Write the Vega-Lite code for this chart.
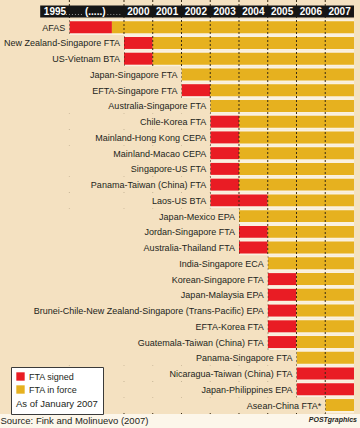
{
  "$schema": "https://vega.github.io/schema/vega-lite/v6.json",
  "width": 360,
  "height": 414,
  "autosize": {"type": "none"},
  "padding": {"left": 0, "top": 0, "right": 0, "bottom": 14},
  "background": "#fcf6ea",
  "config": {
    "view": {"fill": "#f4e1c1", "stroke": null},
    "font": "Liberation Sans",
    "axisX": {"domain": false, "ticks": false, "labels": false, "grid": false, "titleAnchor": "start", "titleAlign": "left", "titleFontSize": 9.5, "titleFontWeight": "normal", "titleColor": "#231f20", "titlePadding": 1.5}
  },
  "title": {"text": "POSTgraphics", "orient": "bottom", "anchor": "end", "fontSize": 7, "fontWeight": "bold", "fontStyle": "italic", "color": "#231f20", "offset": -9, "dx": -3},
  "datasets": {
    "rows": [
      {"name": "AFAS", "start": 1998.1, "end": 2008},
      {"name": "New Zealand-Singapore FTA", "start": 2000, "end": 2008},
      {"name": "US-Vietnam BTA", "start": 2000, "end": 2008},
      {"name": "Japan-Singapore FTA", "start": 2002, "end": 2008},
      {"name": "EFTA-Singapore FTA", "start": 2002, "end": 2008},
      {"name": "Australia-Singapore FTA", "start": 2003, "end": 2008},
      {"name": "Chile-Korea FTA", "start": 2003, "end": 2008},
      {"name": "Mainland-Hong Kong CEPA", "start": 2003, "end": 2008},
      {"name": "Mainland-Macao CEPA", "start": 2003, "end": 2008},
      {"name": "Singapore-US FTA", "start": 2003, "end": 2008},
      {"name": "Panama-Taiwan (China) FTA", "start": 2003, "end": 2008},
      {"name": "Laos-US BTA", "start": 2003, "end": 2008},
      {"name": "Japan-Mexico EPA", "start": 2004, "end": 2008},
      {"name": "Jordan-Singapore FTA", "start": 2004, "end": 2008},
      {"name": "Australia-Thailand FTA", "start": 2004, "end": 2008},
      {"name": "India-Singapore ECA", "start": 2005, "end": 2008},
      {"name": "Korean-Singapore FTA", "start": 2005, "end": 2008},
      {"name": "Japan-Malaysia EPA", "start": 2005, "end": 2008},
      {"name": "Brunei-Chile-New Zealand-Singapore (Trans-Pacific) EPA", "start": 2005, "end": 2008},
      {"name": "EFTA-Korea FTA", "start": 2005, "end": 2008},
      {"name": "Guatemala-Taiwan (China) FTA", "start": 2005, "end": 2008},
      {"name": "Panama-Singapore FTA", "start": 2006, "end": 2008},
      {"name": "Nicaragua-Taiwan (China) FTA", "start": 2006, "end": 2008},
      {"name": "Japan-Philippines EPA", "start": 2006, "end": 2008},
      {"name": "Asean-China FTA*", "start": 2007, "end": 2008}
    ],
    "segs": [
      {"name": "AFAS", "status": "FTA signed", "from": 1998.1, "to": 1999.58},
      {"name": "AFAS", "status": "FTA in force", "from": 1999.58, "to": 2008},
      {"name": "New Zealand-Singapore FTA", "status": "FTA signed", "from": 2000, "to": 2001},
      {"name": "New Zealand-Singapore FTA", "status": "FTA in force", "from": 2001, "to": 2008},
      {"name": "US-Vietnam BTA", "status": "FTA signed", "from": 2000, "to": 2001},
      {"name": "US-Vietnam BTA", "status": "FTA in force", "from": 2001, "to": 2008},
      {"name": "Japan-Singapore FTA", "status": "FTA in force", "from": 2002, "to": 2008},
      {"name": "EFTA-Singapore FTA", "status": "FTA signed", "from": 2002, "to": 2003},
      {"name": "EFTA-Singapore FTA", "status": "FTA in force", "from": 2003, "to": 2008},
      {"name": "Australia-Singapore FTA", "status": "FTA in force", "from": 2003, "to": 2008},
      {"name": "Chile-Korea FTA", "status": "FTA signed", "from": 2003, "to": 2004},
      {"name": "Chile-Korea FTA", "status": "FTA in force", "from": 2004, "to": 2008},
      {"name": "Mainland-Hong Kong CEPA", "status": "FTA signed", "from": 2003, "to": 2004},
      {"name": "Mainland-Hong Kong CEPA", "status": "FTA in force", "from": 2004, "to": 2008},
      {"name": "Mainland-Macao CEPA", "status": "FTA signed", "from": 2003, "to": 2004},
      {"name": "Mainland-Macao CEPA", "status": "FTA in force", "from": 2004, "to": 2008},
      {"name": "Singapore-US FTA", "status": "FTA signed", "from": 2003, "to": 2004},
      {"name": "Singapore-US FTA", "status": "FTA in force", "from": 2004, "to": 2008},
      {"name": "Panama-Taiwan (China) FTA", "status": "FTA signed", "from": 2003, "to": 2004},
      {"name": "Panama-Taiwan (China) FTA", "status": "FTA in force", "from": 2004, "to": 2008},
      {"name": "Laos-US BTA", "status": "FTA signed", "from": 2003, "to": 2005},
      {"name": "Laos-US BTA", "status": "FTA in force", "from": 2005, "to": 2008},
      {"name": "Japan-Mexico EPA", "status": "FTA in force", "from": 2004, "to": 2008},
      {"name": "Jordan-Singapore FTA", "status": "FTA signed", "from": 2004, "to": 2005},
      {"name": "Jordan-Singapore FTA", "status": "FTA in force", "from": 2005, "to": 2008},
      {"name": "Australia-Thailand FTA", "status": "FTA signed", "from": 2004, "to": 2005},
      {"name": "Australia-Thailand FTA", "status": "FTA in force", "from": 2005, "to": 2008},
      {"name": "India-Singapore ECA", "status": "FTA in force", "from": 2005, "to": 2008},
      {"name": "Korean-Singapore FTA", "status": "FTA signed", "from": 2005, "to": 2006},
      {"name": "Korean-Singapore FTA", "status": "FTA in force", "from": 2006, "to": 2008},
      {"name": "Japan-Malaysia EPA", "status": "FTA signed", "from": 2005, "to": 2006},
      {"name": "Japan-Malaysia EPA", "status": "FTA in force", "from": 2006, "to": 2008},
      {"name": "Brunei-Chile-New Zealand-Singapore (Trans-Pacific) EPA", "status": "FTA signed", "from": 2005, "to": 2006},
      {"name": "Brunei-Chile-New Zealand-Singapore (Trans-Pacific) EPA", "status": "FTA in force", "from": 2006, "to": 2008},
      {"name": "EFTA-Korea FTA", "status": "FTA signed", "from": 2005, "to": 2006},
      {"name": "EFTA-Korea FTA", "status": "FTA in force", "from": 2006, "to": 2008},
      {"name": "Guatemala-Taiwan (China) FTA", "status": "FTA signed", "from": 2005, "to": 2006},
      {"name": "Guatemala-Taiwan (China) FTA", "status": "FTA in force", "from": 2006, "to": 2008},
      {"name": "Panama-Singapore FTA", "status": "FTA in force", "from": 2006, "to": 2008},
      {"name": "Nicaragua-Taiwan (China) FTA", "status": "FTA signed", "from": 2006, "to": 2008},
      {"name": "Japan-Philippines EPA", "status": "FTA signed", "from": 2006, "to": 2008},
      {"name": "Asean-China FTA*", "status": "FTA in force", "from": 2007, "to": 2008}
    ],
    "grid": [{"x": 1998.1}, {"x": 2000}, {"x": 2001}, {"x": 2002}, {"x": 2003}, {"x": 2004}, {"x": 2005}, {"x": 2006}, {"x": 2007}],
    "hbar": [{"name": "header", "from": 1997.085, "to": 2008}],
    "head": [
      {"name": "header", "label": "1995", "x": 1997.6},
      {"name": "header", "label": "(.....)", "x": 1999.0},
      {"name": "header", "label": "2000", "x": 2000.5},
      {"name": "header", "label": "2001", "x": 2001.5},
      {"name": "header", "label": "2002", "x": 2002.5},
      {"name": "header", "label": "2003", "x": 2003.5},
      {"name": "header", "label": "2004", "x": 2004.5},
      {"name": "header", "label": "2005", "x": 2005.5},
      {"name": "header", "label": "2006", "x": 2006.5},
      {"name": "header", "label": "2007", "x": 2007.5}
    ],
    "hdots": [{"name": "header", "from": 1997.98, "to": 1998.55}, {"name": "header", "from": 1999.42, "to": 1999.93}]
  },
  "layer": [
    {
      "data": {"name": "rows"},
      "mark": {"type": "bar", "color": "#faf1e0"},
      "encoding": {
        "x": {"field": "start", "type": "quantitative", "scale": {"domain": [1995.687, 2008.209], "nice": false, "zero": false}, "title": "Source: Fink and Molinuevo (2007)"},
        "x2": {"field": "end"},
        "y": {"field": "name", "type": "nominal", "scale": {"domain": ["header", "AFAS", "New Zealand-Singapore FTA", "US-Vietnam BTA", "Japan-Singapore FTA", "EFTA-Singapore FTA", "Australia-Singapore FTA", "Chile-Korea FTA", "Mainland-Hong Kong CEPA", "Mainland-Macao CEPA", "Singapore-US FTA", "Panama-Taiwan (China) FTA", "Laos-US BTA", "Japan-Mexico EPA", "Jordan-Singapore FTA", "Australia-Thailand FTA", "India-Singapore ECA", "Korean-Singapore FTA", "Japan-Malaysia EPA", "Brunei-Chile-New Zealand-Singapore (Trans-Pacific) EPA", "EFTA-Korea FTA", "Guatemala-Taiwan (China) FTA", "Panama-Singapore FTA", "Nicaragua-Taiwan (China) FTA", "Japan-Philippines EPA", "Asean-China FTA*"], "range": [3.6, 412.9], "paddingInner": 0, "paddingOuter": 0}, "axis": null}
      }
    },
    {
      "data": {"name": "segs"},
      "mark": {"type": "bar", "height": {"band": 0.76}},
      "encoding": {
        "x": {"field": "from", "type": "quantitative", "title": "Source: Fink and Molinuevo (2007)"},
        "x2": {"field": "to"},
        "y": {"field": "name", "type": "nominal", "axis": null},
        "color": {
          "field": "status", "type": "nominal",
          "scale": {"domain": ["FTA signed", "FTA in force"], "range": ["#e91c24", "#e6b11f"]},
          "legend": {"title": "As of January 2007", "titleOrient": "bottom", "orient": "none", "legendX": 11, "legendY": 367, "fillColor": "#ffffff", "strokeColor": "#3a3a3a", "padding": 5, "symbolType": "square", "symbolSize": 70, "symbolStrokeWidth": 0, "symbolOpacity": 1, "labelFontSize": 9, "labelColor": "#231f20", "titleFontSize": 9.5, "titleFontWeight": "normal", "titleColor": "#231f20", "titlePadding": 4, "rowPadding": 3, "labelOffset": 4}
        }
      }
    },
    {
      "data": {"name": "grid"},
      "mark": {"type": "rule", "color": "#3a2c14", "strokeDash": [2, 2], "strokeWidth": 1},
      "encoding": {
        "x": {"field": "x", "type": "quantitative", "title": "Source: Fink and Molinuevo (2007)"}
      }
    },
    {
      "data": {"name": "rows"},
      "mark": {"type": "bar", "color": "#f4e1c1"},
      "encoding": {
        "x": {"field": "start", "type": "quantitative", "title": "Source: Fink and Molinuevo (2007)"},
        "x2": {"value": 0},
        "y": {"field": "name", "type": "nominal", "axis": null}
      }
    },
    {
      "data": {"name": "hbar"},
      "mark": {"type": "bar", "color": "#151515", "height": {"band": 0.76}},
      "encoding": {
        "x": {"field": "from", "type": "quantitative", "title": "Source: Fink and Molinuevo (2007)"},
        "x2": {"field": "to"},
        "y": {"field": "name", "type": "nominal", "axis": null}
      }
    },
    {
      "data": {"name": "hdots"},
      "mark": {"type": "rule", "color": "#9a9a9a", "strokeDash": [1, 2], "strokeWidth": 1, "yOffset": 3},
      "encoding": {
        "x": {"field": "from", "type": "quantitative", "title": "Source: Fink and Molinuevo (2007)"},
        "x2": {"field": "to"},
        "y": {"field": "name", "type": "nominal", "axis": null}
      }
    },
    {
      "data": {"name": "head"},
      "mark": {"type": "text", "color": "#ffffff", "fontWeight": "bold", "fontSize": 10, "align": "center", "baseline": "middle", "dy": 0.5},
      "encoding": {
        "x": {"field": "x", "type": "quantitative", "title": "Source: Fink and Molinuevo (2007)"},
        "y": {"field": "name", "type": "nominal", "axis": null},
        "text": {"field": "label"}
      }
    },
    {
      "data": {"name": "rows"},
      "mark": {"type": "text", "color": "#231f20", "fontSize": 9, "align": "right", "baseline": "middle", "dx": -4, "dy": 0.5},
      "encoding": {
        "x": {"field": "start", "type": "quantitative", "title": "Source: Fink and Molinuevo (2007)"},
        "y": {"field": "name", "type": "nominal", "axis": null},
        "text": {"field": "name"}
      }
    }
  ]
}
